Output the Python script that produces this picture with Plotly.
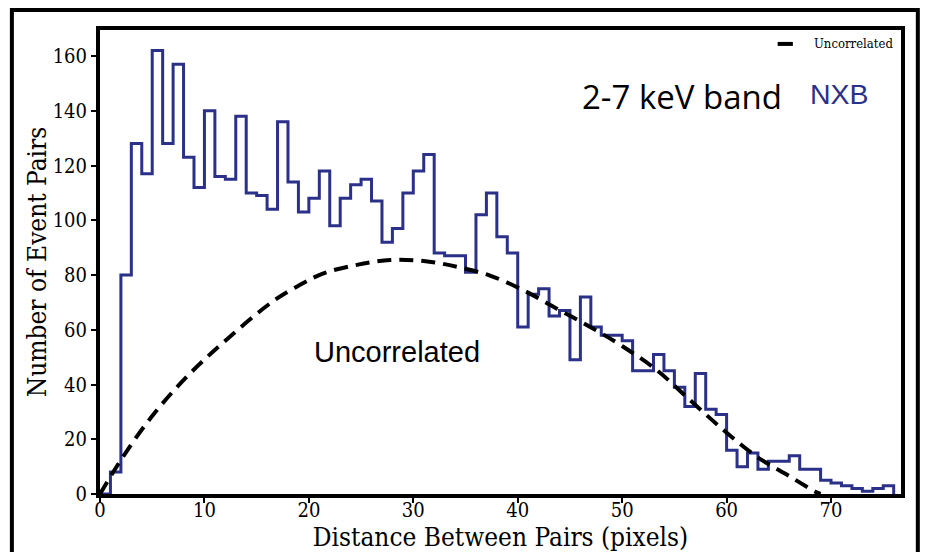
import plotly.graph_objects as go

# Histogram: bin edges 0..76 (1-pixel bins), counts per bin
bin_edges = list(range(0, 77))
nxb_counts = [0, 8, 80, 128, 117, 162, 128, 157, 123, 112,
              140, 116, 115, 138, 110, 109, 104, 136, 114, 103,
              108, 118, 98, 108, 113, 115, 107, 92, 97, 110,
              118, 124, 88, 87, 87, 81, 102, 110, 94, 88,
              61, 73, 75, 65, 67, 49, 72, 61, 58, 58,
              56, 45, 45, 51, 45, 39, 32, 44, 31, 29,
              16, 10, 15, 9, 12, 12, 14, 9, 9, 5,
              4, 3, 2, 1, 2, 3]

# Uncorrelated expectation curve
unc_x = [0, 2.2, 5, 8.3, 12, 16.6, 19.2, 21.4, 24.6, 27.8, 31, 34.2, 37.4,
         40.5, 43.7, 46.9, 50.1, 53.3, 56.5, 59.7, 62.9, 66.1, 68.5, 69]
unc_y = [0, 13.6, 28.5, 42.8, 56, 70.5, 76.5, 80.6, 83.7, 85.5, 85.1, 83, 79.7,
         74.5, 67.8, 61.1, 53.8, 45.3, 34.3, 23.4, 13.6, 6.3, 0.8, 0]

x_ticks = [0, 10, 20, 30, 40, 50, 60, 70]
y_ticks = [0, 20, 40, 60, 80, 100, 120, 140, 160]

NAVY = "#2b3088"
SERIF = "DejaVu Serif Condensed, DejaVu Serif, serif"

fig = go.Figure()
fig.add_trace(go.Scatter(
    x=bin_edges, y=nxb_counts + [0], mode="lines", line_shape="hv",
    line=dict(color=NAVY, width=3), name="NXB", showlegend=False))
fig.add_trace(go.Scatter(
    x=unc_x, y=unc_y, mode="lines", line_shape="spline",
    line=dict(color="black", width=4, dash="14px,8px"),
    name="Uncorrelated", showlegend=False))

fig.update_xaxes(range=[0, 76.7], tickvals=x_ticks, ticks="outside", ticklen=5,
                 tickwidth=2, tickcolor="black", showline=True, linewidth=4,
                 linecolor="black", mirror=True, showgrid=False, zeroline=False,
                 automargin=False, ticklabelstandoff=-10,
                 tickfont=dict(family=SERIF, size=20, color="black"),
                 title=dict(text="Distance Between Pairs (pixels)", standoff=4,
                            font=dict(family=SERIF, size=26, color="black")))
fig.update_yaxes(range=[0, 169.5], tickvals=y_ticks, ticks="outside", ticklen=5,
                 tickwidth=2, tickcolor="black", showline=True, linewidth=4,
                 linecolor="black", mirror=True, showgrid=False, zeroline=False,
                 automargin=False,
                 tickfont=dict(family=SERIF, size=20, color="black"),
                 title=dict(text="Number of Event Pairs", standoff=0,
                            font=dict(family=SERIF, size=26, color="black")))

# outer frame
fig.add_shape(type="rect", xref="paper", yref="paper",
              x0=-0.110, x1=1.021, y0=-0.3, y1=1.043,
              line=dict(color="black", width=4), layer="below")

# manual legend
fig.add_shape(type="line", xref="paper", yref="paper",
              x0=0.846, x1=0.865, y0=0.970, y1=0.970,
              line=dict(color="black", width=4))
fig.add_annotation(xref="paper", yref="paper", x=0.889, y=0.970,
                   text="Uncorrelated", showarrow=False, xanchor="left",
                   yanchor="middle", font=dict(family=SERIF, size=13, color="black"))

fig.add_annotation(xref="paper", yref="paper", x=0.599, y=0.857,
                   text="2-7 keV band", showarrow=False, xanchor="left",
                   yanchor="middle", font=dict(family="Open Sans", size=33, color="black"))
fig.add_annotation(xref="paper", yref="paper", x=0.884, y=0.862,
                   text="NXB", showarrow=False, xanchor="left",
                   yanchor="middle", font=dict(family="Liberation Sans", size=28.5, color=NAVY))
fig.add_annotation(xref="paper", yref="paper", x=0.265, y=0.307,
                   text="Uncorrelated", showarrow=False, xanchor="left",
                   yanchor="middle", font=dict(family="Liberation Sans", size=29, color="black"))

# the page places the figure 8px in from the window's corner
fig.update_layout(width=922, height=544, margin=dict(l=92, r=29, t=22, b=58),
                  paper_bgcolor="white", plot_bgcolor="white")

fig.write_html("out.html")
